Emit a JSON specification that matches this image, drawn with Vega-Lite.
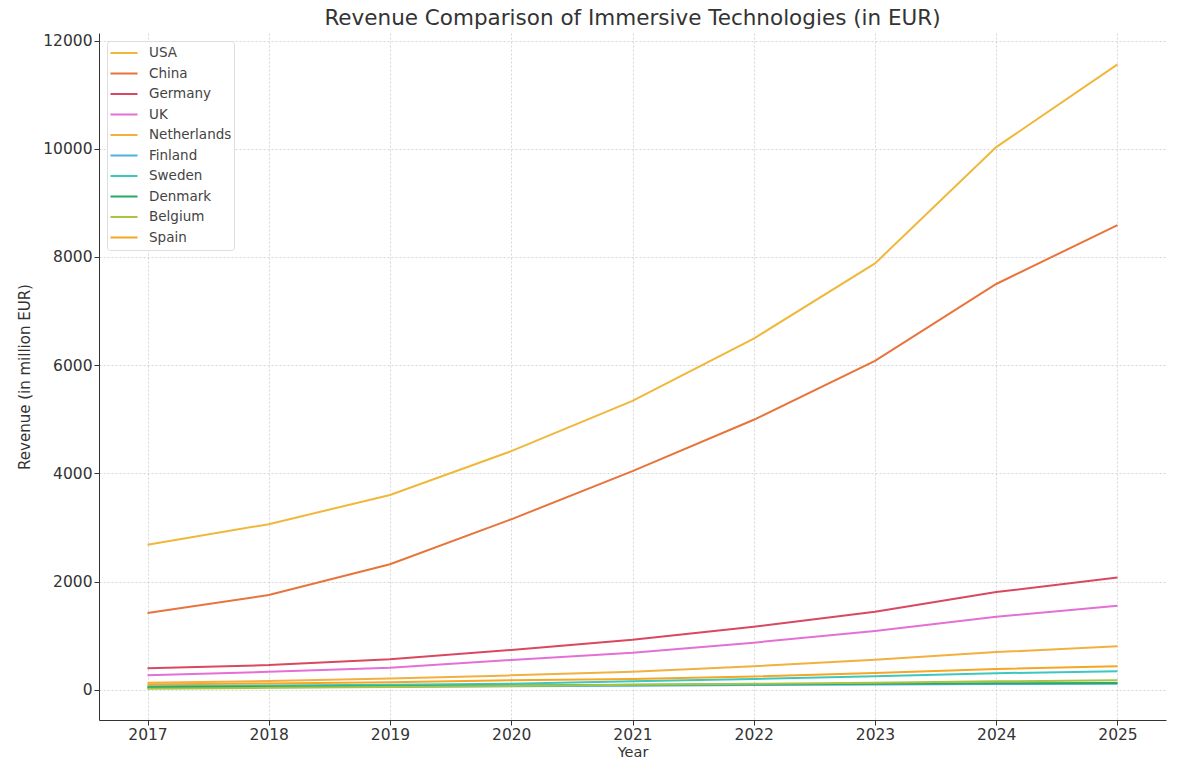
{
  "$schema": "https://vega.github.io/schema/vega-lite/v6.json",
  "autosize": {"type": "none"},
  "padding": {"left": 99, "top": 33, "right": 12, "bottom": 41},
  "width": 1067,
  "height": 687,
  "background": "white",
  "title": {"text": "Revenue Comparison of Immersive Technologies (in EUR)", "font": "DejaVu Sans", "fontSize": 21.5, "fontWeight": "normal", "color": "#333333", "anchor": "middle", "offset": 4},
  "config": {
    "view": {"stroke": null},
    "axis": {"labelFont": "DejaVu Sans", "titleFont": "DejaVu Sans", "labelFontSize": 15.5, "titleFontSize": 15, "titleFontWeight": "normal", "labelColor": "#333333", "titleColor": "#333333", "domainColor": "#333333", "tickColor": "#333333", "gridColor": "#cccccc", "gridDash": [2, 2], "gridWidth": 0.8, "tickSize": 5},
    "legend": {"labelFont": "DejaVu Sans", "labelFontSize": 13.5, "labelColor": "#444444"}
  },
  "data": {"values": [
    {"country": "USA", "year": 2017, "revenue": 2680}, {"country": "USA", "year": 2018, "revenue": 3060}, {"country": "USA", "year": 2019, "revenue": 3600}, {"country": "USA", "year": 2020, "revenue": 4410}, {"country": "USA", "year": 2021, "revenue": 5340}, {"country": "USA", "year": 2022, "revenue": 6490}, {"country": "USA", "year": 2023, "revenue": 7880}, {"country": "USA", "year": 2024, "revenue": 10030}, {"country": "USA", "year": 2025, "revenue": 11560},
    {"country": "China", "year": 2017, "revenue": 1420}, {"country": "China", "year": 2018, "revenue": 1750}, {"country": "China", "year": 2019, "revenue": 2320}, {"country": "China", "year": 2020, "revenue": 3150}, {"country": "China", "year": 2021, "revenue": 4040}, {"country": "China", "year": 2022, "revenue": 4990}, {"country": "China", "year": 2023, "revenue": 6080}, {"country": "China", "year": 2024, "revenue": 7500}, {"country": "China", "year": 2025, "revenue": 8590},
    {"country": "Germany", "year": 2017, "revenue": 395}, {"country": "Germany", "year": 2018, "revenue": 455}, {"country": "Germany", "year": 2019, "revenue": 565}, {"country": "Germany", "year": 2020, "revenue": 735}, {"country": "Germany", "year": 2021, "revenue": 925}, {"country": "Germany", "year": 2022, "revenue": 1165}, {"country": "Germany", "year": 2023, "revenue": 1440}, {"country": "Germany", "year": 2024, "revenue": 1805}, {"country": "Germany", "year": 2025, "revenue": 2075},
    {"country": "UK", "year": 2017, "revenue": 268}, {"country": "UK", "year": 2018, "revenue": 330}, {"country": "UK", "year": 2019, "revenue": 405}, {"country": "UK", "year": 2020, "revenue": 550}, {"country": "UK", "year": 2021, "revenue": 685}, {"country": "UK", "year": 2022, "revenue": 870}, {"country": "UK", "year": 2023, "revenue": 1085}, {"country": "UK", "year": 2024, "revenue": 1350}, {"country": "UK", "year": 2025, "revenue": 1550},
    {"country": "Netherlands", "year": 2017, "revenue": 127}, {"country": "Netherlands", "year": 2018, "revenue": 160}, {"country": "Netherlands", "year": 2019, "revenue": 205}, {"country": "Netherlands", "year": 2020, "revenue": 265}, {"country": "Netherlands", "year": 2021, "revenue": 330}, {"country": "Netherlands", "year": 2022, "revenue": 435}, {"country": "Netherlands", "year": 2023, "revenue": 555}, {"country": "Netherlands", "year": 2024, "revenue": 695}, {"country": "Netherlands", "year": 2025, "revenue": 805},
    {"country": "Finland", "year": 2017, "revenue": 35}, {"country": "Finland", "year": 2018, "revenue": 45}, {"country": "Finland", "year": 2019, "revenue": 55}, {"country": "Finland", "year": 2020, "revenue": 65}, {"country": "Finland", "year": 2021, "revenue": 75}, {"country": "Finland", "year": 2022, "revenue": 85}, {"country": "Finland", "year": 2023, "revenue": 95}, {"country": "Finland", "year": 2024, "revenue": 105}, {"country": "Finland", "year": 2025, "revenue": 112},
    {"country": "Sweden", "year": 2017, "revenue": 64}, {"country": "Sweden", "year": 2018, "revenue": 78}, {"country": "Sweden", "year": 2019, "revenue": 92}, {"country": "Sweden", "year": 2020, "revenue": 112}, {"country": "Sweden", "year": 2021, "revenue": 155}, {"country": "Sweden", "year": 2022, "revenue": 200}, {"country": "Sweden", "year": 2023, "revenue": 248}, {"country": "Sweden", "year": 2024, "revenue": 305}, {"country": "Sweden", "year": 2025, "revenue": 342},
    {"country": "Denmark", "year": 2017, "revenue": 45}, {"country": "Denmark", "year": 2018, "revenue": 55}, {"country": "Denmark", "year": 2019, "revenue": 65}, {"country": "Denmark", "year": 2020, "revenue": 78}, {"country": "Denmark", "year": 2021, "revenue": 90}, {"country": "Denmark", "year": 2022, "revenue": 100}, {"country": "Denmark", "year": 2023, "revenue": 110}, {"country": "Denmark", "year": 2024, "revenue": 120}, {"country": "Denmark", "year": 2025, "revenue": 126},
    {"country": "Belgium", "year": 2017, "revenue": 20}, {"country": "Belgium", "year": 2018, "revenue": 35}, {"country": "Belgium", "year": 2019, "revenue": 50}, {"country": "Belgium", "year": 2020, "revenue": 70}, {"country": "Belgium", "year": 2021, "revenue": 90}, {"country": "Belgium", "year": 2022, "revenue": 110}, {"country": "Belgium", "year": 2023, "revenue": 130}, {"country": "Belgium", "year": 2024, "revenue": 155}, {"country": "Belgium", "year": 2025, "revenue": 175},
    {"country": "Spain", "year": 2017, "revenue": 95}, {"country": "Spain", "year": 2018, "revenue": 115}, {"country": "Spain", "year": 2019, "revenue": 140}, {"country": "Spain", "year": 2020, "revenue": 175}, {"country": "Spain", "year": 2021, "revenue": 200}, {"country": "Spain", "year": 2022, "revenue": 245}, {"country": "Spain", "year": 2023, "revenue": 310}, {"country": "Spain", "year": 2024, "revenue": 385}, {"country": "Spain", "year": 2025, "revenue": 435}
  ]},
  "mark": {"type": "line", "strokeWidth": 2},
  "encoding": {
    "x": {"field": "year", "type": "quantitative", "title": "Year",
      "scale": {"domain": [2016.6, 2025.4], "nice": false, "zero": false},
      "axis": {"values": [2017, 2018, 2019, 2020, 2021, 2022, 2023, 2024, 2025], "format": "d", "grid": true, "labelPadding": 2, "titlePadding": 2.5, "titleFontSize": 14.5}},
    "y": {"field": "revenue", "type": "quantitative", "title": "Revenue (in million EUR)",
      "scale": {"domain": [-560, 12140], "nice": false, "zero": false},
      "axis": {"values": [0, 2000, 4000, 6000, 8000, 10000, 12000], "format": "d", "grid": true, "titlePadding": 10}},
    "color": {"field": "country", "type": "nominal",
      "sort": ["USA", "China", "Germany", "UK", "Netherlands", "Finland", "Sweden", "Denmark", "Belgium", "Spain"],
      "scale": {"domain": ["USA", "China", "Germany", "UK", "Netherlands", "Finland", "Sweden", "Denmark", "Belgium", "Spain"],
        "range": ["#f0b83a", "#e8743b", "#d9485f", "#e46fd6", "#f2b040", "#4ab3e0", "#3cc8c0", "#2aa865", "#a8c444", "#f5a623"]},
      "legend": {"title": null, "orient": "none", "legendX": 8, "legendY": 8, "symbolType": "stroke", "symbolSize": 730, "symbolStrokeWidth": 2, "clipHeight": 20, "rowPadding": 0.5, "padding": 2, "fillColor": "white", "strokeColor": "#dddddd", "cornerRadius": 3, "labelOffset": 10}}
  }
}
